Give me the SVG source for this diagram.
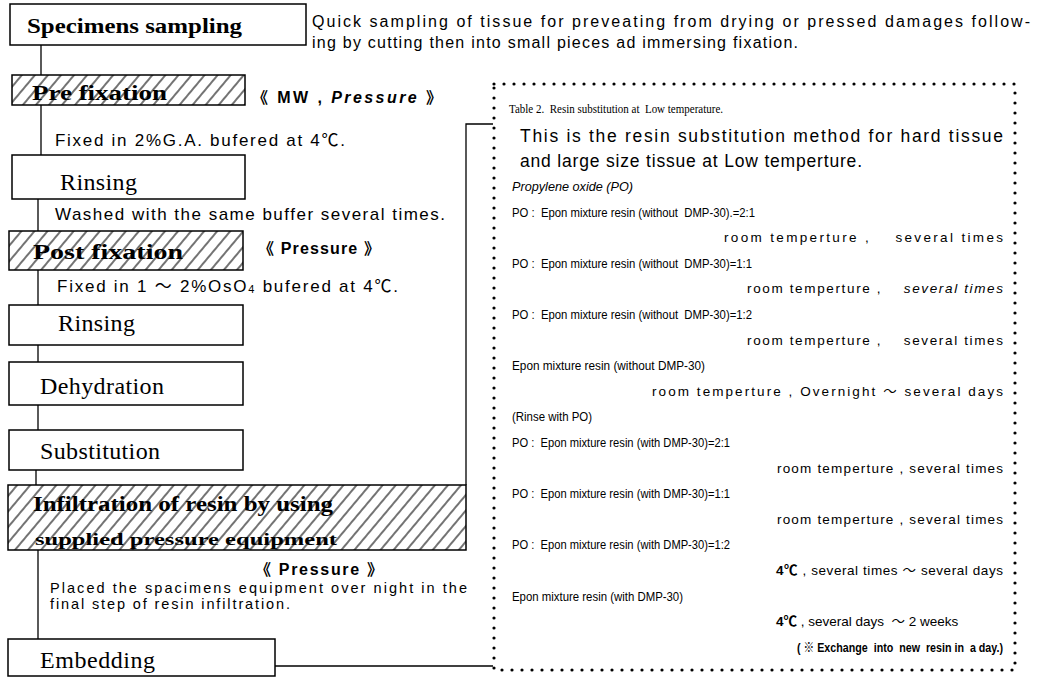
<svg xmlns="http://www.w3.org/2000/svg" width="1056" height="678" viewBox="0 0 1056 678">
<defs>
<pattern id="hatch" patternUnits="userSpaceOnUse" width="10" height="10" patternTransform="rotate(40)">
<rect width="10" height="10" fill="#fff"/>
<line x1="5" y1="0" x2="5" y2="10" stroke="#000" stroke-width="1.1"/>
</pattern>
</defs>
<style>
.box{fill:#fff;stroke:#000;stroke-width:1.5}
.hbox{fill:url(#hatch);stroke:#000;stroke-width:1.5}
.ser{font-family:"Liberation Serif","Times New Roman",serif;fill:#000}
.serb{font-family:"Liberation Serif","Times New Roman",serif;font-weight:bold;fill:#000}
.sans{font-family:"Liberation Sans",Arial,"Noto Sans CJK JP",sans-serif;fill:#000}
.b{font-weight:bold}
.i{font-style:italic}
.conn{fill:none;stroke:#000;stroke-width:1.3}
.dots{fill:none;stroke:#000;stroke-width:3.2;stroke-linecap:round;stroke-dasharray:0 10}
.t13{font-size:13px}
.t14{font-size:13.5px}
.t17{font-size:17px}
</style>
<rect width="1056" height="678" fill="#fff"/>

<g id="connectors">
<path class="conn" d="M41,45 V75"/>
<path class="conn" d="M41,105 V155"/>
<path class="conn" d="M38,199 V231"/>
<path class="conn" d="M38,270 V305"/>
<path class="conn" d="M38,345 V362"/>
<path class="conn" d="M38,405 V430"/>
<path class="conn" d="M36,470 V485"/>
<path class="conn" d="M38,550 V639"/>
<path class="conn" d="M466,485 V124 H493"/>
<path class="conn" d="M275,666 H493"/>
</g>

<g id="n-specimens">
<rect class="box" x="10" y="4" width="296" height="41"/>
<text class="serb" x="27" y="33" font-size="20" textLength="215" lengthAdjust="spacingAndGlyphs">Specimens sampling</text>
<text class="sans" x="312" y="27" font-size="16" textLength="718" lengthAdjust="spacing">Quick sampling of tissue for preveating from drying or pressed damages follow-</text>
<text class="sans" x="312" y="48" font-size="16" textLength="486" lengthAdjust="spacing">ing by cutting then into small pieces ad immersing fixation.</text>
</g>

<g id="n-prefix">
<rect class="hbox" x="12" y="75" width="233" height="30"/>
<text class="serb" x="32" y="100" font-size="20" textLength="135" lengthAdjust="spacingAndGlyphs">Pre fixation</text>
<text class="sans b" x="252" y="103" font-size="16" textLength="190" lengthAdjust="spacing">《 MW ,  <tspan class="i">Pressure</tspan> 》</text>
<text class="sans t17" x="55" y="146" textLength="290" lengthAdjust="spacing">Fixed in 2%G.A. bufered at 4℃.</text>
</g>

<g id="n-rinse1">
<rect class="box" x="12" y="155" width="233" height="44"/>
<text class="ser" x="60" y="190" font-size="24" textLength="77" lengthAdjust="spacing">Rinsing</text>
<text class="sans t17" x="55" y="220" textLength="390" lengthAdjust="spacing">Washed with the same buffer several times.</text>
</g>

<g id="n-postfix">
<rect class="hbox" x="9" y="231" width="234" height="39"/>
<text class="serb" x="33" y="259" font-size="20" textLength="150" lengthAdjust="spacingAndGlyphs">Post fixation</text>
<text class="sans b" x="258" y="254" font-size="16" textLength="122" lengthAdjust="spacing">《 Pressure 》</text>
<text class="sans t17" x="57" y="292" textLength="341" lengthAdjust="spacing">Fixed in 1 ～ 2%OsO<tspan font-size="11" dy="1">4</tspan><tspan dy="-1"> bufered at 4℃.</tspan></text>
</g>

<g id="n-rinse2">
<rect class="box" x="9" y="305" width="234" height="40"/>
<text class="ser" x="58" y="331" font-size="24" textLength="77" lengthAdjust="spacing">Rinsing</text>
</g>

<g id="n-dehyd">
<rect class="box" x="9" y="362" width="234" height="43"/>
<text class="ser" x="40" y="394" font-size="24" textLength="124" lengthAdjust="spacing">Dehydration</text>
</g>

<g id="n-subst">
<rect class="box" x="9" y="430" width="234" height="40"/>
<text class="ser" x="40" y="459" font-size="24" textLength="120" lengthAdjust="spacing">Substitution</text>
</g>

<g id="n-infil">
<rect class="hbox" x="8" y="485" width="458" height="65"/>
<text class="serb" x="33" y="511" font-size="20" textLength="300" lengthAdjust="spacingAndGlyphs">Infiltration of resin by using</text>
<text class="serb" x="35" y="545" font-size="17" textLength="302" lengthAdjust="spacingAndGlyphs">supplied pressure equipment</text>
<text class="sans b" x="255" y="575" font-size="16" textLength="128" lengthAdjust="spacing">《 Pressure 》</text>
<text class="sans" x="50" y="593" font-size="14.5" textLength="417" lengthAdjust="spacing">Placed the spacimens equipment over night in the</text>
<text class="sans" x="50" y="609" font-size="14.5" textLength="240" lengthAdjust="spacing">final step of resin infiltration.</text>
</g>

<g id="n-embed">
<rect class="box" x="8" y="639" width="267" height="37"/>
<text class="ser" x="40" y="668" font-size="24" textLength="115" lengthAdjust="spacing">Embedding</text>
</g>

<g id="n-table">
<rect class="dots" x="494" y="84" width="521" height="586"/>
<text class="ser" x="509" y="113" font-size="13.5" textLength="214" lengthAdjust="spacingAndGlyphs" xml:space="preserve">Table 2.  Resin substitution at  Low temperature.</text>
<text class="sans" x="520" y="142" font-size="17.5" textLength="483" lengthAdjust="spacing">This is the resin substitution method for hard tissue</text>
<text class="sans" x="520" y="167" font-size="17.5" textLength="342" lengthAdjust="spacing">and large size tissue at Low temperture.</text>
<text class="sans t13 i" x="512" y="191" textLength="121" lengthAdjust="spacingAndGlyphs">Propylene oxide (PO)</text>
<text class="sans t13" x="512" y="217" textLength="243" lengthAdjust="spacingAndGlyphs" xml:space="preserve">PO :  Epon mixture resin (without  DMP-30).=2:1</text>
<text class="sans t14" x="724" y="242" textLength="279" lengthAdjust="spacing" xml:space="preserve">room temperture ,    several times</text>
<text class="sans t13" x="512" y="268" textLength="240" lengthAdjust="spacingAndGlyphs" xml:space="preserve">PO :  Epon mixture resin (without  DMP-30)=1:1</text>
<text class="sans t14" x="747" y="293" textLength="256" lengthAdjust="spacing" xml:space="preserve">room temperture ,    <tspan class="i">several times</tspan></text>
<text class="sans t13" x="512" y="319" textLength="240" lengthAdjust="spacingAndGlyphs" xml:space="preserve">PO :  Epon mixture resin (without  DMP-30)=1:2</text>
<text class="sans t14" x="747" y="345" textLength="256" lengthAdjust="spacing" xml:space="preserve">room temperture ,    several times</text>
<text class="sans t13" x="512" y="370" textLength="193" lengthAdjust="spacingAndGlyphs">Epon mixture resin (without DMP-30)</text>
<text class="sans t14" x="652" y="396" textLength="351" lengthAdjust="spacing">room temperture , Overnight ～ several days</text>
<text class="sans t13" x="512" y="421" textLength="80" lengthAdjust="spacingAndGlyphs">(Rinse with PO)</text>
<text class="sans t13" x="512" y="447" textLength="218" lengthAdjust="spacingAndGlyphs" xml:space="preserve">PO :  Epon mixture resin (with DMP-30)=2:1</text>
<text class="sans t14" x="777" y="473" textLength="226" lengthAdjust="spacing">room temperture , several times</text>
<text class="sans t13" x="512" y="498" textLength="218" lengthAdjust="spacingAndGlyphs" xml:space="preserve">PO :  Epon mixture resin (with DMP-30)=1:1</text>
<text class="sans t14" x="777" y="524" textLength="226" lengthAdjust="spacing">room temperture , several times</text>
<text class="sans t13" x="512" y="549" textLength="218" lengthAdjust="spacingAndGlyphs" xml:space="preserve">PO :  Epon mixture resin (with DMP-30)=1:2</text>
<text class="sans t14" x="776" y="575" textLength="227" lengthAdjust="spacing"><tspan class="b">4℃</tspan> , several times ～ several days</text>
<text class="sans t13" x="512" y="601" textLength="171" lengthAdjust="spacingAndGlyphs">Epon mixture resin (with DMP-30)</text>
<text class="sans t14" x="776" y="626" xml:space="preserve"><tspan class="b">4℃</tspan> , several days  ～ 2 weeks</text>
<text class="sans t14 b" x="797" y="652" textLength="206" lengthAdjust="spacingAndGlyphs" xml:space="preserve">( ※ Exchange  into  new  resin in  a day.)</text>
</g>
</svg>
